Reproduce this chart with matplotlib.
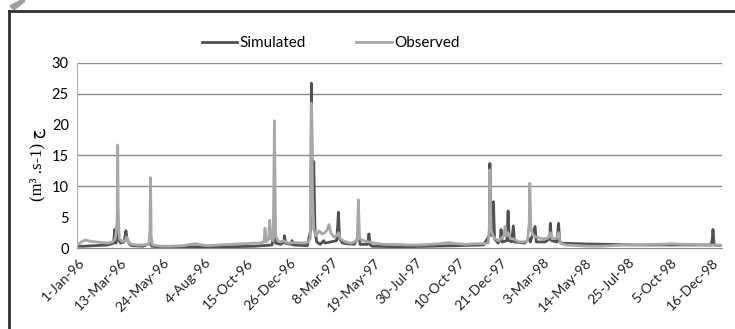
import datetime as dt
import matplotlib
matplotlib.use("Agg")
from matplotlib import pyplot as plt
from matplotlib.lines import Line2D
from matplotlib.patches import Polygon

START = dt.date(1996, 1, 1)

# observed discharge, (day since 1-Jan-96, m3/s)
obs_day = [0, 5, 12, 20, 30, 40, 50, 58, 63, 66, 67, 68, 70, 75, 80, 82, 85, 90,
           100, 110, 120, 122, 123, 124, 126, 140, 160, 180, 190, 200, 210, 220,
           240, 260, 280, 300, 310, 316, 318, 320, 324, 326, 328, 332, 334, 336,
           340, 345, 350, 355, 360, 370, 380, 390, 395, 397, 399, 401, 405, 410,
           415, 420, 424, 427, 430, 435, 440, 443, 446, 455, 465, 475, 477, 479,
           485, 495, 505, 520, 540, 560, 580, 600, 615, 630, 645, 660, 675, 690,
           698, 700, 701, 703, 706, 710, 715, 720, 725, 727, 729, 732, 736, 741,
           750, 760, 765, 768, 769, 771, 775, 780, 790, 800, 804, 807, 815, 818,
           821, 830, 850, 870, 890, 910, 930, 950, 970, 990, 1010, 1030, 1050,
           1070, 1085, 1095]
obs_val = [0.6, 1.0, 1.3, 1.1, 1.0, 0.9, 0.8, 1.0, 1.5, 4.0, 16.7, 5.0, 1.5, 1.0,
           1.2, 1.8, 1.0, 0.6, 0.5, 0.5, 0.6, 3.0, 11.4, 2.0, 0.5, 0.3, 0.3, 0.4,
           0.6, 0.7, 0.5, 0.4, 0.5, 0.6, 0.7, 0.8, 0.8, 1.0, 3.2, 1.0, 1.5, 4.5,
           1.5, 1.2, 20.6, 2.0, 1.2, 1.0, 1.2, 0.9, 0.8, 0.9, 0.8, 0.9, 1.5, 23.5,
           8.0, 3.0, 2.0, 2.8, 2.3, 2.5, 3.0, 3.8, 2.5, 1.8, 2.0, 2.5, 1.5, 1.0,
           0.8, 1.2, 7.8, 1.5, 1.2, 1.0, 0.8, 0.6, 0.6, 0.5, 0.5, 0.6, 0.7, 0.9,
           0.7, 0.6, 0.7, 0.7, 0.8, 3.0, 12.7, 3.0, 2.0, 1.5, 1.2, 1.5, 2.0, 3.5,
           2.0, 2.5, 1.5, 1.5, 1.0, 1.0, 1.2, 4.0, 10.5, 3.0, 2.0, 1.8, 1.5, 1.6,
           2.5, 1.5, 1.6, 2.5, 0.8, 0.5, 0.4, 0.3, 0.3, 0.4, 0.5, 0.5, 0.6, 0.6,
           0.7, 0.6, 0.6, 0.5, 0.5, 0.4]

# simulated discharge
sim_day = [0, 10, 30, 50, 60, 62, 64, 66, 67, 68, 72, 78, 81, 83, 86, 90, 110,
           123, 125, 150, 200, 250, 300, 330, 334, 336, 345, 350, 351, 353, 363,
           364, 366, 390, 396, 397, 399, 401, 403, 406, 412, 418, 420, 430, 440,
           442, 443, 445, 450, 470, 478, 480, 493, 495, 497, 500, 550, 600, 650,
           690, 700, 701, 703, 705, 707, 709, 715, 719, 720, 722, 730, 732, 734,
           738, 741, 743, 760, 768, 770, 778, 780, 795, 803, 804, 806, 815, 818,
           820, 822, 850, 900, 950, 1000, 1050, 1078, 1080, 1081, 1083, 1095]
sim_val = [0.3, 0.3, 0.4, 0.5, 0.8, 3.0, 0.8, 3.5, 6.0, 1.5, 0.8, 1.0, 2.8, 1.5,
           0.8, 0.4, 0.3, 0.8, 0.3, 0.1, 0.2, 0.2, 0.3, 0.5, 3.0, 0.8, 0.6, 1.0,
           2.0, 0.8, 0.6, 1.2, 0.5, 0.4, 3.0, 26.7, 5.0, 14.0, 3.0, 1.0, 0.6, 1.2,
           0.8, 1.0, 1.2, 4.0, 5.8, 1.5, 0.8, 0.6, 2.0, 0.6, 0.6, 2.3, 0.6, 0.3,
           0.2, 0.3, 0.4, 0.5, 2.0, 13.7, 3.0, 2.0, 7.5, 1.5, 0.8, 1.5, 3.0, 1.0,
           1.2, 6.0, 1.2, 1.0, 3.6, 1.0, 0.8, 1.5, 1.0, 3.5, 1.0, 1.0, 1.5, 4.0,
           1.2, 1.0, 4.0, 1.0, 0.8, 0.7, 0.6, 0.5, 0.5, 0.5, 0.5, 1.5, 3.0, 0.5,
           0.4]

y_ticks = [0, 5, 10, 15, 20, 25, 30]
grid_levels = [10, 15, 25, 30]


def to_dates(days):
    return [START + dt.timedelta(days=d) for d in days]


fig = plt.figure(figsize=(7.35, 3.29), dpi=100)
ax = fig.add_axes([0.105, 0.246, 0.877, 0.563])

ax.plot(to_dates(sim_day), sim_val, color='#505050', lw=2.0, label='Simulated')
ax.plot(to_dates(obs_day), obs_val, color='#a8a8a8', lw=2.0, label='Observed')

for g in grid_levels:
    ax.axhline(g, color='#8a8a8a', lw=1.0, zorder=0)

ax.set_ylim(0, 30)
ax.set_yticks(y_ticks)
ax.set_xlim(START - dt.timedelta(days=2), START + dt.timedelta(days=1096))
tick_dates = [START + dt.timedelta(days=72 * i) for i in range(16)]
ax.set_xticks(tick_dates)
ax.set_xticklabels([f'{d.day}-{d.strftime("%b-%y")}' for d in tick_dates],
                   rotation=45, ha='right', rotation_mode='anchor',
                   fontsize=10, family='Lato', color='#222222')
for lab in ax.get_yticklabels():
    lab.set_family('Lato')
    lab.set_fontsize(10.5)
ax.tick_params(length=0, pad=6)
for side in ['top', 'right']:
    ax.spines[side].set_visible(False)
ax.spines['left'].set_color('#b0b0b0')
ax.spines['bottom'].set_color('#8a8a8a')

fig.text(0.052, 0.50, '(m³ .s-1) ج', rotation=90, ha='center', va='center',
         fontsize=12, family=['Liberation Serif', 'DejaVu Sans'])

fig.legend(loc='center', bbox_to_anchor=(0.45, 0.869), ncol=2, frameon=False,
           prop={'family': 'Lato', 'size': 11}, handlelength=2.3,
           handletextpad=0.15, columnspacing=3.3)

# outer frame and pencil mark
fig.add_artist(Line2D([9 / 735, 1.0], [1 - 11 / 329, 1 - 11 / 329],
                      transform=fig.transFigure, color='#303030', lw=2))
fig.add_artist(Line2D([9 / 735, 9 / 735], [0, 1 - 11 / 329],
                      transform=fig.transFigure, color='#303030', lw=2))
fig.add_artist(Polygon([(10 / 735, 1 - 6 / 329), (14 / 735, 1 - 10 / 329),
                        (25 / 735, 1 - 1 / 329), (21 / 735, 1.0)],
                       closed=True, transform=fig.transFigure,
                       color='#a0a0a0'))

fig.savefig('out.png', dpi=100)
